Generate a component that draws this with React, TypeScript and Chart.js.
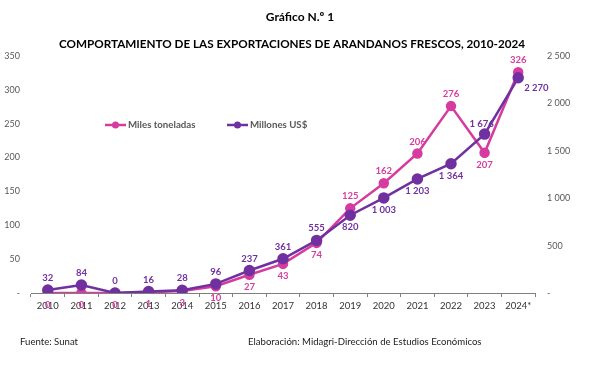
import React, { useEffect, useRef } from "react";
import { Chart, registerables } from "chart.js";

Chart.register(...registerables);

const years = ["2010", "2011", "2012", "2013", "2014", "2015", "2016", "2017", "2018", "2019", "2020", "2021", "2022", "2023", "2024*"];
const milesToneladas = [0, 0, 0, 1, 3, 10, 27, 43, 74, 125, 162, 206, 276, 207, 326];
const millonesUSD = [32, 84, 0, 16, 28, 96, 237, 361, 555, 820, 1003, 1203, 1364, 1676, 2270];
const pinkLabelPos = ["below", "below", "below", "below", "below", "below", "below", "below", "below", "above", "above", "above", "above", "below", "above"];
const purpleLabelPos = ["above", "above", "above", "above", "above", "above", "above", "above", "above", "below", "below", "below", "below", "aboveLeft", "right"];

const titleText = "Gráfico N.º 1";
const subtitleText = "COMPORTAMIENTO DE LAS EXPORTACIONES DE ARANDANOS FRESCOS, 2010-2024";
const sourceText = "Fuente: Sunat";
const creditText = "Elaboración: Midagri-Dirección de Estudios Económicos";

const PINK = "#D63C9F";
const PURPLE = "#7030A0";
const GRAY = "#595959";
const FONT = "Lato, 'Open Sans', sans-serif";

const fmt = (v: number) => {
  if (v === 0) return "-";
  return String(Math.round(v)).replace(/\B(?=(\d{3})+(?!\d))/g, " ");
};
const fmtLabel = (v: number) => String(v).replace(/\B(?=(\d{3})+(?!\d))/g, " ");

const decorPlugin = {
  id: "decor",
  beforeDraw(chart: any) {
    const { ctx, width, height } = chart;
    ctx.save();
    ctx.fillStyle = "#ffffff";
    ctx.fillRect(0, 0, width, height);
    ctx.restore();
  },
  afterDraw(chart: any) {
    const { ctx, chartArea } = chart;
    ctx.save();
    // titles
    ctx.fillStyle = "#000000";
    ctx.textAlign = "center";
    ctx.textBaseline = "middle";
    ctx.font = `bold 12px ${FONT}`;
    ctx.fillText(titleText, 300, 17);
    ctx.font = `bold 11.7px ${FONT}`;
    ctx.fillText(subtitleText, 292, 44);
    // footer
    ctx.font = `9.6px ${FONT}`;
    ctx.textAlign = "left";
    ctx.fillStyle = "#222222";
    ctx.fillText(sourceText, 20, 342);
    ctx.fillText(creditText, 248, 342);

    // legend
    const ly = chartArea.top + 69;
    const items = [
      { color: PINK, x0: 105, text: "Miles toneladas" },
      { color: PURPLE, x0: 227, text: "Millones US$" },
    ];
    items.forEach((it) => {
      ctx.strokeStyle = it.color;
      ctx.lineWidth = 2.5;
      ctx.beginPath();
      ctx.moveTo(it.x0, ly);
      ctx.lineTo(it.x0 + 21, ly);
      ctx.stroke();
      ctx.fillStyle = it.color;
      ctx.beginPath();
      ctx.arc(it.x0 + 10.5, ly, 3.5, 0, Math.PI * 2);
      ctx.fill();
      ctx.fillStyle = GRAY;
      ctx.font = `bold 9.7px ${FONT}`;
      ctx.textAlign = "left";
      ctx.textBaseline = "middle";
      ctx.fillText(it.text, it.x0 + 23, ly);
    });

    // data labels
    const drawLabels = (dsIndex: number, values: number[], pos: string[], color: string) => {
      const meta = chart.getDatasetMeta(dsIndex);
      ctx.fillStyle = color;
      ctx.font = `bold 9.5px ${FONT}`;
      ctx.textBaseline = "middle";
      meta.data.forEach((el: any, i: number) => {
        const p = pos[i];
        let x = el.x;
        let y = el.y;
        ctx.textAlign = "center";
        if (p === "above") y -= 12;
        else if (p === "below") y += 12;
        else if (p === "aboveLeft") { y -= 10; x -= 3; }
        else if (p === "right") { ctx.textAlign = "left"; x += 6; y += 10; }
        ctx.fillText(fmtLabel(values[i]), x, y);
      });
    };
    drawLabels(0, milesToneladas, pinkLabelPos, PINK);
    drawLabels(1, millonesUSD, purpleLabelPos, PURPLE);
    ctx.restore();
  },
};

export default function App() {
  const ref = useRef<HTMLCanvasElement | null>(null);
  useEffect(() => {
    if (!ref.current) return;
    const chart = new Chart(ref.current, {
      type: "line",
      data: {
        labels: years,
        datasets: [
          {
            label: "Miles toneladas",
            data: milesToneladas,
            yAxisID: "y",
            borderColor: PINK,
            backgroundColor: PINK,
            borderWidth: 2.5,
            pointRadius: 4,
            pointBackgroundColor: PINK,
            pointBorderColor: PINK,
            tension: 0,
            order: 1,
          },
          {
            label: "Millones US$",
            data: millonesUSD,
            yAxisID: "y1",
            borderColor: PURPLE,
            backgroundColor: PURPLE,
            borderWidth: 2.5,
            pointRadius: 4.5,
            pointBackgroundColor: PURPLE,
            pointBorderColor: PURPLE,
            tension: 0,
            order: 0,
          },
        ],
      },
      options: {
        responsive: false,
        animation: false,
        layout: { padding: { top: 56, bottom: 49, left: 0, right: 0 } },
        plugins: {
          legend: { display: false },
          title: { display: false },
          tooltip: { enabled: false },
        },
        scales: {
          x: {
            type: "category",
            offset: true,
            grid: { display: true, drawOnChartArea: false, drawTicks: true, tickLength: 4, color: "#7f7f7f", offset: true },
            border: { display: true, color: "#7f7f7f", width: 1 },
            ticks: { color: "#333333", font: { family: FONT, size: 9.5 }, padding: 3, maxRotation: 0, autoSkip: false },
            afterFit: (s: any) => { s.height = 24; },
          },
          y: {
            position: "left",
            min: 0,
            max: 350,
            grid: { display: false, drawTicks: false },
            border: { display: false },
            ticks: { stepSize: 50, color: GRAY, font: { family: FONT, size: 9 }, padding: 11, callback: (v: any) => fmt(Number(v)) },
            afterFit: (s: any) => { s.width = 31; },
          },
          y1: {
            position: "right",
            min: 0,
            max: 2500,
            grid: { display: false, drawTicks: false },
            border: { display: false },
            ticks: { stepSize: 500, color: GRAY, font: { family: FONT, size: 9 }, padding: 12, callback: (v: any) => fmt(Number(v)) },
            afterFit: (s: any) => { s.width = 65; },
          },
        },
      } as any,
      plugins: [decorPlugin],
    });
    return () => chart.destroy();
  }, []);
  return (
    <div style={{ position: "absolute", left: 0, top: 0, width: 600, height: 366 }}>
      <canvas ref={ref} width={600} height={366} />
    </div>
  );
}
